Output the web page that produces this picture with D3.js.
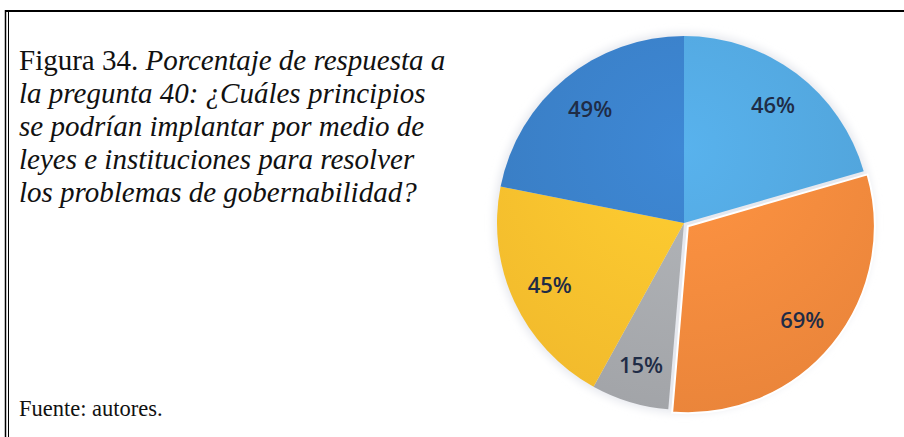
<!DOCTYPE html>
<html>
<head>
<meta charset="utf-8">
<script src="https://cdn.jsdelivr.net/npm/d3@7"></script>
<style>
  body { margin: 0; background: #fff; }
  svg { display: block; }
</style>
</head>
<body>
<svg id="chart" width="904" height="437"></svg>
<script>
// data
const categories = ['A', 'B', 'C', 'D', 'E']
const values = [46, 69, 15, 45, 49]
const labels = ['46%', '69%', '15%', '45%', '49%']
const colors = ['#52a6dd', '#f38a3d', '#a8aaae', '#fcc12e', '#3a7fc6']
const exploded = [false, true, false, false, false]

const titleLines = [
  [{ t: 'Figura 34. ', i: false }, { t: 'Porcentaje de respuesta a', i: true }],
  [{ t: 'la pregunta 40: ¿Cuáles principios', i: true }],
  [{ t: 'se podrían implantar por medio de', i: true }],
  [{ t: 'leyes e instituciones para resolver', i: true }],
  [{ t: 'los problemas de gobernabilidad?', i: true }],
]

const svg = d3.select('#chart')

// frame
svg.append('line').attr('x1', 5).attr('y1', 11).attr('x2', 904).attr('y2', 11)
  .attr('stroke', '#000').attr('stroke-width', 2)
svg.append('line').attr('x1', 5.5).attr('y1', 10).attr('x2', 5.5).attr('y2', 437)
  .attr('stroke', '#000').attr('stroke-width', 1.5)
svg.append('line').attr('x1', 8.5).attr('y1', 12).attr('x2', 8.5).attr('y2', 437)
  .attr('stroke', '#000').attr('stroke-width', 1)

// caption
const caption = svg.append('text')
  .attr('font-family', '"Liberation Serif", "Times New Roman", serif')
  .attr('font-size', 29)
  .attr('fill', '#111')
titleLines.forEach((line, li) => {
  const row = caption.append('tspan').attr('x', 19).attr('y', 70 + li * 33)
  line.forEach((part, pi) => {
    const sp = pi === 0 ? row : caption.append('tspan')
    sp.text(part.t).attr('font-style', part.i ? 'italic' : 'normal')
  })
})

svg.append('text')
  .attr('x', 19).attr('y', 416)
  .attr('font-family', '"Liberation Serif", "Times New Roman", serif')
  .attr('font-size', 22.5)
  .attr('fill', '#111')
  .text('Fuente: autores.')

// pie
const cx = 684, cy = 223, r = 187
const defs = svg.append('defs')
defs.append('filter').attr('id', 'glow')
  .attr('x', '-10%').attr('y', '-10%').attr('width', '120%').attr('height', '120%')
  .append('feGaussianBlur').attr('stdDeviation', 4)

colors.forEach((c, i) => {
  const g = defs.append('radialGradient').attr('id', 'grad' + i)
    .attr('gradientUnits', 'userSpaceOnUse')
    .attr('cx', 0).attr('cy', -r * 0.4).attr('r', r * 1.5)
  g.append('stop').attr('offset', '0%').attr('stop-color', d3.color(c).brighter(0.2))
  g.append('stop').attr('offset', '100%').attr('stop-color', d3.color(c).darker(0.12))
})

const pie = d3.pie().sort(null).value(d => d)
const arcs = pie(values)
const arc = d3.arc().innerRadius(0).outerRadius(r)
const labelArc = d3.arc().innerRadius(148).outerRadius(148)

const root = svg.append('g').attr('transform', `translate(${cx},${cy})`)

// soft halo
root.append('circle').attr('r', r + 3).attr('fill', '#e6e8ee').attr('filter', 'url(#glow)')

const offset = d => {
  const i = d.index
  if (!exploded[i]) return [0, 0]
  const a = (d.startAngle + d.endAngle) / 2
  return [Math.sin(a) * 5, -Math.cos(a) * 5]
}

root.selectAll('path.slice')
  .data(arcs)
  .join('path')
  .attr('class', 'slice')
  .attr('d', arc)
  .attr('transform', d => `translate(${offset(d)})`)
  .attr('fill', d => `url(#grad${d.index})`)
  .attr('stroke', d => exploded[d.index] ? '#fff' : 'none')
  .attr('stroke-width', 2)

root.selectAll('text.lbl')
  .data(arcs)
  .join('text')
  .attr('class', 'lbl')
  .attr('transform', d => {
    const [x, y] = labelArc.centroid(d)
    const [ox, oy] = offset(d)
    return `translate(${x + ox},${y + oy})`
  })
  .attr('text-anchor', 'middle')
  .attr('dy', '0.36em')
  .attr('font-family', '"Open Sans", "Liberation Sans", sans-serif')
  .attr('font-size', 22)
  .attr('font-weight', 600)
  .attr('fill', '#1f2c46')
  .text((d, i) => labels[i])
</script>
</body>
</html>
